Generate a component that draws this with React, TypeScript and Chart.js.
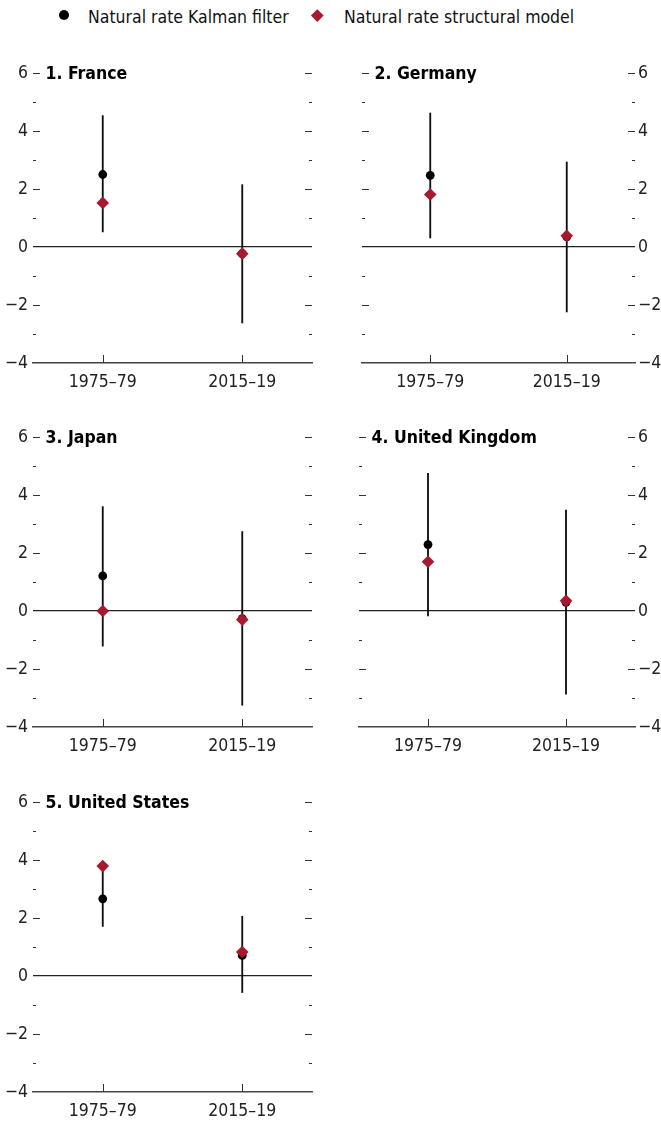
import React, { useEffect, useRef, useMemo } from 'react';
import { Chart, registerables } from 'chart.js';

Chart.register(...registerables);

// ---------- data ----------
const categories = ['1975–79', '2015–19'];
const yMin = -4;
const yMax = 6;
const yLabelValues = [-4, -2, 0, 2, 4, 6];
const legendLabels = ['Natural rate Kalman filter', 'Natural rate structural model'];
const panelTitles = ['1. France', '2. Germany', '3. Japan', '4. United Kingdom', '5. United States'];

const franceKalman = [2.5, -0.23];
const franceStructural = [1.52, -0.23];
const franceLow = [0.52, -2.62];
const franceHigh = [4.53, 2.15];

const germanyKalman = [2.47, 0.35];
const germanyStructural = [1.81, 0.39];
const germanyLow = [0.31, -2.24];
const germanyHigh = [4.62, 2.93];

const japanKalman = [1.21, -0.26];
const japanStructural = [0.0, -0.3];
const japanLow = [-1.21, -3.25];
const japanHigh = [3.6, 2.74];

const ukKalman = [2.29, 0.3];
const ukStructural = [1.7, 0.35];
const ukLow = [-0.17, -2.87];
const ukHigh = [4.75, 3.48];

const usKalman = [2.66, 0.71];
const usStructural = [3.79, 0.83];
const usLow = [1.71, -0.57];
const usHigh = [3.61, 2.06];

// ---------- styles ----------
const RED = '#a6192e';
const BLACK = '#000000';

function pickFont(): { family: string; size: number } {
  const candidates = ['Liberation Sans Narrow', 'DejaVu Sans Condensed', 'Roboto', 'Liberation Sans'];
  const c = document.createElement('canvas');
  const ctx = c.getContext('2d');
  const sample = legendLabels[0];
  if (!ctx) return { family: 'sans-serif', size: 17 };
  for (const f of candidates) {
    ctx.font = '21px monospace';
    const a = ctx.measureText(sample).width;
    ctx.font = `21px "${f}", monospace`;
    const b = ctx.measureText(sample).width;
    ctx.font = '21px serif';
    const a2 = ctx.measureText(sample).width;
    ctx.font = `21px "${f}", serif`;
    const b2 = ctx.measureText(sample).width;
    if (Math.abs(a - b) > 0.5 && Math.abs(a2 - b2) > 0.5) {
      const size = Math.max(13, Math.min(21, (21 * 200) / b));
      return { family: `"${f}", sans-serif`, size: Math.round(size * 2) / 2 };
    }
  }
  return { family: 'sans-serif', size: 17 };
}

const decorPlugin = {
  id: 'decor',
  afterDraw(chart: any, _args: any, opts: any) {
    const { ctx, chartArea } = chart;
    const ys = chart.scales.y;
    const xs = chart.scales.x;
    ctx.save();
    ctx.strokeStyle = '#333';
    ctx.lineWidth = 1;
    for (const t of ys.ticks) {
      const v = t.value;
      if (v === yMin || v === 0) continue;
      const py = Math.round(ys.getPixelForValue(v)) + 0.5;
      const len = yLabelValues.includes(v) ? 7 : 3;
      ctx.beginPath();
      ctx.moveTo(chartArea.left, py);
      ctx.lineTo(chartArea.left + len, py);
      ctx.moveTo(chartArea.right - len, py);
      ctx.lineTo(chartArea.right, py);
      ctx.stroke();
    }
    for (let i = 0; i < categories.length; i++) {
      const px = Math.round(xs.getPixelForValue(i)) + 0.5;
      ctx.beginPath();
      ctx.moveTo(px, chartArea.bottom);
      ctx.lineTo(px, chartArea.bottom - 8);
      ctx.stroke();
    }
    ctx.fillStyle = '#000';
    ctx.font = `bold ${opts.size}px ${opts.family}`;
    ctx.textBaseline = 'middle';
    ctx.textAlign = 'left';
    ctx.fillText(opts.title, chartArea.left + 12.5, ys.getPixelForValue(yMax) + 1);
    ctx.restore();
  },
};

type PanelProps = {
  title: string;
  kalman: number[];
  structural: number[];
  low: number[];
  high: number[];
  left: number;
  top: number;
  width: number;
  side: 'left' | 'right';
  padLeft: number;
  padRight: number;
  axisWidth: number;
  font: { family: string; size: number };
};

const CANVAS_H = 340;
const PAD_TOP = 20;
const X_AXIS_H = 30;

function Panel(p: PanelProps) {
  const ref = useRef<HTMLCanvasElement | null>(null);
  useEffect(() => {
    if (!ref.current) return;
    const fontObj = { family: p.font.family, size: p.font.size };
    const chart = new Chart(ref.current, {
      type: 'bar',
      data: {
        labels: categories,
        datasets: [
          {
            type: 'line',
            label: legendLabels[1],
            data: p.structural,
            showLine: false,
            pointStyle: 'rectRot',
            pointRadius: 6.3,
            pointBackgroundColor: RED,
            pointBorderWidth: 0,
            borderColor: RED,
            order: 1,
          } as any,
          {
            type: 'line',
            label: legendLabels[0],
            data: p.kalman,
            showLine: false,
            pointStyle: 'circle',
            pointRadius: 4.4,
            pointBackgroundColor: BLACK,
            pointBorderWidth: 0,
            borderColor: BLACK,
            order: 2,
          } as any,
          {
            type: 'bar',
            label: 'range',
            data: p.low.map((l, i) => [l, p.high[i]]),
            backgroundColor: '#111111',
            borderWidth: 0,
            barThickness: 1.2,
            grouped: false,
            order: 3,
          } as any,
        ],
      },
      options: {
        responsive: false,
        animation: false,
        events: [],
        layout: { padding: { top: PAD_TOP, left: p.padLeft, right: p.padRight, bottom: 0 } },
        plugins: {
          legend: { display: false },
          tooltip: { enabled: false },
          decor: { title: p.title, family: p.font.family, size: p.font.size },
        } as any,
        scales: {
          x: {
            type: 'category',
            offset: true,
            grid: { display: false, drawTicks: false },
            border: { display: true, color: '#444', width: 1.5 },
            ticks: {
              color: '#222',
              font: fontObj,
              padding: 9,
              maxRotation: 0,
              autoSkip: false,
            },
            afterFit: (s: any) => {
              s.height = X_AXIS_H;
            },
          },
          y: {
            type: 'linear',
            position: p.side,
            min: yMin,
            max: yMax,
            grid: {
              drawTicks: false,
              color: (c: any) => (c.tick && c.tick.value === 0 ? '#222' : 'rgba(0,0,0,0)'),
              lineWidth: 1.2,
            },
            border: { display: false },
            ticks: {
              stepSize: 1,
              color: '#222',
              font: fontObj,
              padding: p.side === 'left' ? 5 : 3,
              callback: (v: any) => {
                const n = Number(v);
                if (!yLabelValues.includes(n)) return '';
                return n < 0 ? '\u2212' + Math.abs(n) : String(n);
              },
            },
            afterFit: (s: any) => {
              s.width = p.axisWidth;
            },
          },
        },
      } as any,
      plugins: [decorPlugin],
    });
    return () => chart.destroy();
  }, []);
  return (
    <canvas
      ref={ref}
      width={p.width}
      height={CANVAS_H}
      style={{ position: 'absolute', left: p.left, top: p.top, width: p.width, height: CANVAS_H, display: 'block' }}
    />
  );
}

export default function App() {
  const font = useMemo(() => pickFont(), []);
  const textTop = 17.8 - 0.49 * font.size;
  const legendText: React.CSSProperties = {
    position: 'absolute',
    top: textTop,
    fontFamily: font.family,
    fontSize: font.size,
    lineHeight: `${font.size}px`,
    color: '#111',
    whiteSpace: 'nowrap',
  };
  const rows = [53, 417, 782];
  return (
    <div
      style={{
        position: 'absolute',
        left: 0,
        top: 0,
        width: 661,
        height: 1122,
        overflow: 'hidden',
        background: '#fff',
      }}
    >
      <div style={{ position: 'absolute', left: 59, top: 10, width: 10, height: 10, borderRadius: '50%', background: BLACK }} />
      <div style={{ ...legendText, left: 88 }}>{legendLabels[0]}</div>
      <div
        style={{
          position: 'absolute',
          left: 317 - 4.3,
          top: 15 - 4.3,
          width: 8.6,
          height: 8.6,
          background: RED,
          transform: 'rotate(45deg)',
        }}
      />
      <div style={{ ...legendText, left: 344 }}>{legendLabels[1]}</div>

      <Panel title={panelTitles[0]} kalman={franceKalman} structural={franceStructural} low={franceLow} high={franceHigh}
        left={0} top={rows[0]} width={330} side="left" padLeft={0} padRight={18} axisWidth={33} font={font} />
      <Panel title={panelTitles[1]} kalman={germanyKalman} structural={germanyStructural} low={germanyLow} high={germanyHigh}
        left={330} top={rows[0]} width={331} side="right" padLeft={32} padRight={0} axisWidth={26} font={font} />
      <Panel title={panelTitles[2]} kalman={japanKalman} structural={japanStructural} low={japanLow} high={japanHigh}
        left={0} top={rows[1]} width={330} side="left" padLeft={0} padRight={18} axisWidth={33} font={font} />
      <Panel title={panelTitles[3]} kalman={ukKalman} structural={ukStructural} low={ukLow} high={ukHigh}
        left={330} top={rows[1]} width={331} side="right" padLeft={29} padRight={0} axisWidth={26} font={font} />
      <Panel title={panelTitles[4]} kalman={usKalman} structural={usStructural} low={usLow} high={usHigh}
        left={0} top={rows[2]} width={330} side="left" padLeft={0} padRight={18} axisWidth={33} font={font} />
    </div>
  );
}
